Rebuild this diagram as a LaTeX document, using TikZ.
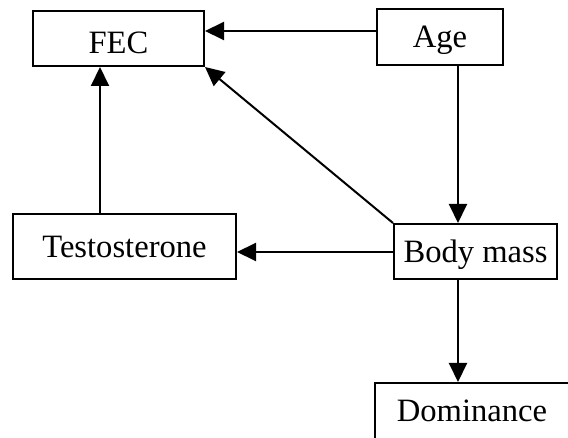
\documentclass[tikz,border=0pt]{standalone}
\usepackage{fontspec}
\setmainfont{Liberation Serif}
\usepackage{tikz}
\usetikzlibrary{arrows.meta}
\tikzset{
    var-box/.style = {draw=black, fill=white, line width=1pt, rectangle, inner sep=0pt, text depth=0pt, font=\fontsize{16.3}{19}\selectfont},
    causal-arrow/.style = {draw=black, line width=1pt, -{Triangle[length=9.5pt,width=9pt]}},
}

\begin{document}
\begin{tikzpicture}[x=0.5pt, y=-0.5pt]
\clip (0,0) rectangle (568,438);
\node [var-box, text height=15pt, minimum width=85.5pt, minimum height=27.5pt] (fec) at (118.5,38.5) {FEC};
\node [var-box, minimum width=63pt, minimum height=28pt] (age) at (440,37) {Age};
\node [var-box, minimum width=111.5pt, minimum height=32.5pt] (testo) at (124.5,246.5) {Testosterone};
\node [var-box, minimum width=81.5pt, minimum height=27.5pt] (mass) at (475.5,251.5) {Body mass};
\node [var-box, minimum width=97pt, minimum height=28pt] (dom) at (472,411) {Dominance};
\draw [causal-arrow] ([yshift=3pt]age.west) -- ([yshift=3.75pt]fec.east);
\draw [causal-arrow] ([xshift=9pt]age.south) -- ([xshift=-8.75pt]mass.north);
\draw [causal-arrow] (mass.north west) -- (fec.south east);
\draw [causal-arrow] ([yshift=-0.25pt]mass.west) -- ([yshift=-2.75pt]testo.east);
\draw [causal-arrow] ([xshift=-12.25pt]testo.north) -- ([xshift=-9.25pt]fec.south);
\draw [causal-arrow] ([xshift=-8.75pt]mass.south) -- ([xshift=-7pt]dom.north);
\end{tikzpicture}
\end{document}
